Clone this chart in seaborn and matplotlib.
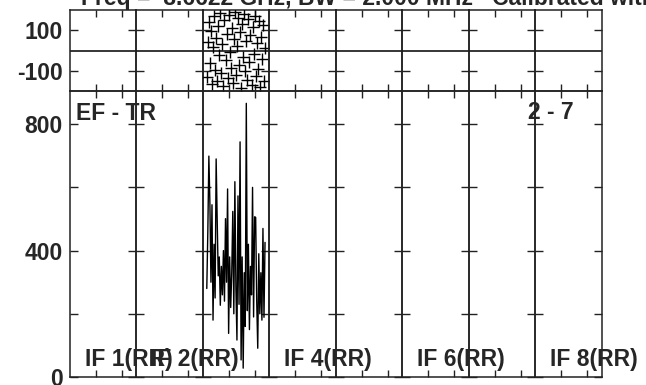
import matplotlib
matplotlib.use("Agg")
import matplotlib.pyplot as plt
import seaborn as sns
import pandas as pd

# ---------------- data ----------------
if_names = ["IF 1", "IF 2", "IF 3", "IF 4", "IF 5", "IF 6", "IF 7", "IF 8"]
labelled_ifs = ["IF 1", "IF 2", "IF 4", "IF 6", "IF 8"]
pol = "RR"
data_if = "IF 3"
n_chan = 64
channels = list(range(4, 61))

amplitude = [
    280, 460, 699, 548, 300, 545, 180, 420, 250, 690, 498, 320, 380, 227, 350,
    260, 400, 240, 501, 300, 595, 138, 380, 220, 330, 524, 200, 618, 280, 117,
    573, 230, 744, 54, 380, 28, 330, 160, 866, 210, 420, 150, 350, 260, 600,
    190, 507, 505, 240, 91, 390, 200, 330, 180, 470, 189, 426,
]

phase = [
    -130, 40, 140, -60, 95, -165, 15, 170, -95, 60, -150, 120, -20, 185, -110,
    30, -175, 150, -45, 80, -135, 175, -5, -85, 110, -160, 55, 190, -120, 20,
    160, -70, 90, -185, 130, -30, 180, -100, 45, -145, 155, -55, 75, -170, 115,
    -15, 170, -125, 35, -90, 145, -180, 65, -40, 125, -150, 10,
]

phase_ticks = [-100, 100]
phase_ticklabels = ["-100", "100"]
amp_ticks = [0, 200, 400, 600, 800]
amp_ticklabels = ["0", "", "400", "", "800"]
chan_ticks = [25, 50]

title_text = "Freq =  8.6622 GHz, BW = 2.000 MHz   Calibrated with CL # 3"
baseline_text = "EF - TR"
page_text = "2 - 7"

df = pd.DataFrame({"channel": channels, "amp": amplitude, "phase": phase})

# ---------------- style ----------------
sns.set_style("ticks")
plt.rcParams["font.family"] = ["Liberation Sans", "DejaVu Sans"]
plt.rcParams["font.weight"] = "bold"
FS = 16.5
EDGE = "#222222"

W, H = 646, 385
fig = plt.figure(figsize=(W / 100, H / 100), dpi=100)
left_px, right_px = 69.5, 602
left, right = left_px / W, right_px / W
top_y, mid_y, bot_y = 1 - 10 / H, 1 - 91 / H, 1 - 377 / H
gs_top = fig.add_gridspec(1, 8, left=left, right=right, top=top_y, bottom=mid_y, wspace=0)
gs_bot = fig.add_gridspec(1, 8, left=left, right=right, top=mid_y, bottom=bot_y, wspace=0)

ph_axes = [fig.add_subplot(gs_top[0, i]) for i in range(8)]
am_axes = [fig.add_subplot(gs_bot[0, i]) for i in range(8)]
panel_w = (right_px - left_px) / 8

for i, name in enumerate(if_names):
    pa, aa = ph_axes[i], am_axes[i]
    if name == data_if:
        sns.scatterplot(data=df, x="channel", y="phase", ax=pa, marker="+",
                        s=85, color="black", linewidth=1.0, legend=False, zorder=3)
        sns.lineplot(data=df, x="channel", y="amp", ax=aa, color="black",
                     linewidth=1.0, estimator=None, sort=False, legend=False, zorder=3)
    pa.axhline(0, color="black", linewidth=1.1, zorder=2)
    pa.set_ylim(-200, 200)
    aa.set_ylim(0, 905)
    for ax, yt in ((pa, phase_ticks), (aa, amp_ticks)):
        ax.set_xlim(0, n_chan)
        ax.set_xticks(chan_ticks)
        ax.set_yticks(yt)
        ax.set_xlabel("")
        ax.set_ylabel("")
        ax.tick_params(axis="both", direction="in", length=6, width=1.0,
                       color=EDGE, top=True, bottom=True, left=True, right=True,
                       labelbottom=False, labeltop=False, labelright=False,
                       labelleft=(i == 0), labelsize=FS, pad=5)
        ax.tick_params(axis="x", length=5)
        for sp in ax.spines.values():
            sp.set_visible(True)
            sp.set_color(EDGE)
            sp.set_linewidth(1.1)
        ax.set_facecolor("none")
    if i == 0:
        pa.set_yticklabels(phase_ticklabels, fontweight="bold")
        aa.set_yticklabels(amp_ticklabels, fontweight="bold")
    else:
        pa.set_yticklabels([])
        aa.set_yticklabels([])
    if name in labelled_ifs:
        fig.text((left_px + i * panel_w + 15) / W, 1 - 366 / H, f"{name}({pol})",
                 fontsize=FS, fontweight="bold", va="baseline", ha="left", zorder=5)

fig.text(81 / W, 1 - 4.5 / H, title_text, fontsize=FS, fontweight="bold",
         va="baseline", ha="left")
fig.text(76 / W, 1 - 120 / H, baseline_text, fontsize=FS, fontweight="bold",
         va="baseline", ha="left")
fig.text(527.5 / W, 1 - 119 / H, page_text, fontsize=FS, fontweight="bold",
         va="baseline", ha="left")

fig.savefig("out.png", dpi=100)
